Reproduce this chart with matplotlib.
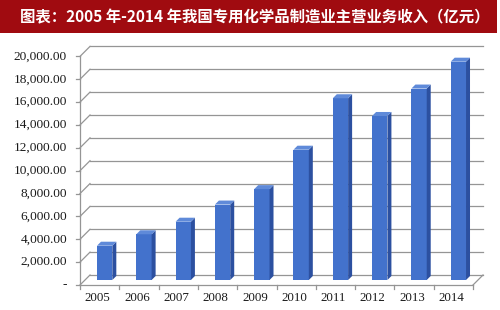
import matplotlib
matplotlib.use("Agg")
import matplotlib.pyplot as plt
from matplotlib.patches import Rectangle, Polygon

years = ["2005", "2006", "2007", "2008", "2009", "2010", "2011", "2012", "2013", "2014"]
revenue = [3000, 4000, 5100, 6600, 7950, 11400, 15900, 14350, 16750, 19100]
y_ticks = [0, 2000, 4000, 6000, 8000, 10000, 12000, 14000, 16000, 18000, 20000]
y_tick_labels = ["-", "2,000.00", "4,000.00", "6,000.00", "8,000.00", "10,000.00",
                 "12,000.00", "14,000.00", "16,000.00", "18,000.00", "20,000.00"]
title = "图表：2005 年-2014 年我国专用化学品制造业主营业务收入（亿元）"

W, H = 500, 310
fig = plt.figure(figsize=(W / 100, H / 100), dpi=100)
fig.patch.set_facecolor("white")

# banner
fig.patches.append(Rectangle((0, 1 - 33 / H), 497 / W, 33 / H, transform=fig.transFigure,
                             facecolor="#a00b10", edgecolor="none", zorder=0))
fig.text(20 / W, 1 - 17 / H, title, color="white", fontsize=11.1, fontweight="bold",
         family=["Noto Sans CJK SC", "DejaVu Sans"], va="center", ha="left")

ax_left, ax_w = 85, 393
ax_bot, ax_h = 30, 228.6
ax = fig.add_axes([ax_left / W, ax_bot / H, ax_w / W, ax_h / H])
ax.set_xlim(-0.5, len(years) - 0.5)
ax.set_ylim(0, 20000)
ax.axis("off")

px_x = (len(years)) / ax_w
px_y = 20000 / ax_h
D = 5.0
dx, dy = D * px_x, D * px_y
xmin, xmax = -0.5, len(years) - 0.5
grid_c = "#959595"
lw = 0.9

# back wall gridlines and left wall diagonals
for v in y_ticks:
    ax.plot([xmin + dx, xmax + dx], [v + dy, v + dy], color=grid_c, lw=lw, clip_on=False, zorder=1)
    ax.plot([xmin - dx, xmin + dx], [v - dy, v + dy], color=grid_c, lw=lw, clip_on=False, zorder=1)
# floor
ax.plot([xmin - dx, xmax - dx], [-dy, -dy], color=grid_c, lw=lw, clip_on=False, zorder=1)
ax.plot([xmax - dx, xmax + dx], [-dy, dy], color=grid_c, lw=lw, clip_on=False, zorder=1)
# front vertical axis
ax.plot([xmin - dx, xmin - dx], [-dy, 20000 - dy], color=grid_c, lw=lw, clip_on=False, zorder=1)
for v, lab in zip(y_ticks, y_tick_labels):
    ax.plot([xmin - dx - 4 * px_x, xmin - dx], [v - dy, v - dy], color=grid_c, lw=lw,
            clip_on=False, zorder=1)
    ax.text(xmin - dx - 13 * px_x, v - dy, lab, ha="right", va="center", fontsize=9.6,
            family="Liberation Serif", color="#1a1a1a")
# x ticks and labels
for i in range(len(years) + 1):
    xb = i - 0.5 - dx
    ax.plot([xb, xb], [-dy, -dy - 4 * px_y], color=grid_c, lw=lw, clip_on=False, zorder=1)
for i, yl in enumerate(years):
    ax.text(i - dx - 2 * px_x, -dy - 13 * px_y, yl, ha="center", va="center", fontsize=9.3,
            family="Liberation Serif", color="#1a1a1a")

# bars with 3D faces
bw = 0.39
bdx, bdy = 4 * px_x, 4 * px_y
front_c, side_c, top_c = "#4372cc", "#2c50a0", "#5f8ad9"
ax.bar(range(len(years)), revenue, width=bw, color=front_c, zorder=3)
for i, v in enumerate(revenue):
    r = i + bw / 2
    l = i - bw / 2
    ax.add_patch(Polygon([(r, 0), (r + bdx, bdy), (r + bdx, v + bdy), (r, v)],
                         closed=True, facecolor=side_c, edgecolor="none", zorder=3))
    ax.add_patch(Polygon([(l, v), (r, v), (r + bdx, v + bdy), (l + bdx, v + bdy)],
                         closed=True, facecolor=top_c, edgecolor="none", zorder=3))

fig.savefig("out.png", dpi=100)
